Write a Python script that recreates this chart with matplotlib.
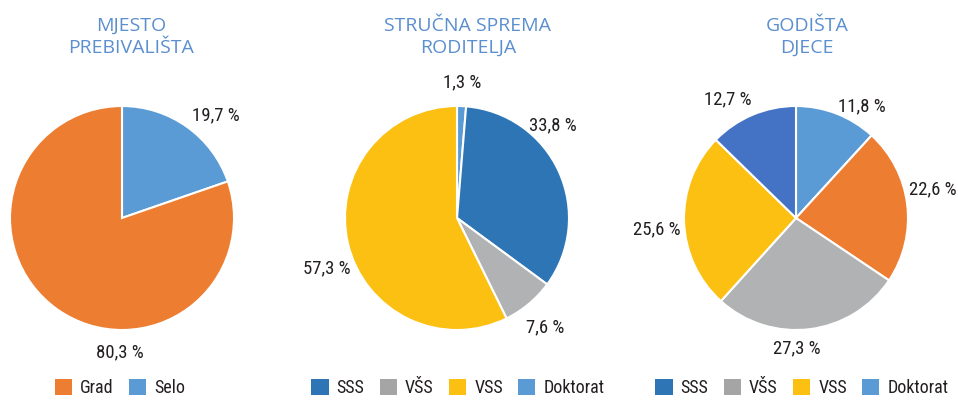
import matplotlib
matplotlib.use("Agg")
import matplotlib.pyplot as plt
from matplotlib.patches import Patch
from matplotlib import font_manager

# ---------------- data ----------------
titles = ["MJESTO\nPREBIVALIŠTA", "STRUČNA SPREMA\nRODITELJA", "GODIŠTA\nDJECE"]

# pie 1 (clockwise from 12 o'clock)
p1_cats = ["Selo", "Grad"]
p1_vals = [19.7, 80.3]
# pie 2 (clockwise from 12 o'clock)
p2_cats = ["Doktorat", "SSS", "VŠS", "VSS"]
p2_vals = [1.3, 33.8, 7.6, 57.3]
# pie 3 (clockwise from 12 o'clock)
p3_vals = [11.8, 22.6, 27.3, 25.6, 12.7]

leg1_labels = ["Grad", "Selo"]
leg2_labels = ["SSS", "VŠS", "VSS", "Doktorat"]
leg3_labels = ["SSS", "VŠS", "VSS", "Doktorat"]

# ---------------- styles ----------------
ORANGE = "#ED7D31"
LBLUE = "#5B9BD5"
BLUE = "#2E75B6"
GRAY = "#B1B2B4"
LGRAY = "#A5A5A5"
YELLOW = "#FBC012"
DBLUE = "#4472C4"
TITLE_C = "#5B8FCF"
TXT_C = "#231F20"

p1_cols = [LBLUE, ORANGE]
p2_cols = [LBLUE, BLUE, GRAY, YELLOW]
p3_cols = [LBLUE, ORANGE, GRAY, YELLOW, DBLUE]
leg1_cols = [ORANGE, LBLUE]
leg2_cols = [BLUE, LGRAY, YELLOW, LBLUE]
leg3_cols = [BLUE, LGRAY, YELLOW, LBLUE]

avail = {f.name for f in font_manager.fontManager.ttflist}
narrow = [f for f in ["Liberation Sans Narrow", "Roboto Condensed", "DejaVu Sans"] if f in avail]
title_font = [f for f in ["Open Sans", "Roboto", "DejaVu Sans"] if f in avail]

# label positions in units of pie radius (text placement only)
lab_pos = [
    [(0.84, 0.92), (-0.02, -1.20)],
    [(0.045, 1.21), (0.86, 0.83), (0.79, -0.98), (-1.16, -0.45)],
    [(0.59, 1.00), (1.22, 0.26), (0.01, -1.16), (-1.24, -0.10), (-0.61, 1.06)],
]

W, H = 958, 400
fig = plt.figure(figsize=(W / 100, H / 100), dpi=100)
R = 112
centers = [(122, 218), (457, 218), (796, 218)]
title_x = [131, 468, 807]
legend_x = [120, 458, 802]

pies = [(p1_vals, p1_cols), (p2_vals, p2_cols), (p3_vals, p3_cols)]
legends = [(leg1_labels, leg1_cols), (leg2_labels, leg2_cols), (leg3_labels, leg3_cols)]

for i, ((vals, cols), (cx, cy)) in enumerate(zip(pies, centers)):
    ax = fig.add_axes([(cx - R) / W, (H - cy - R) / H, 2 * R / W, 2 * R / H])
    ax.pie(vals, colors=cols, startangle=90, counterclock=False, radius=1,
           wedgeprops=dict(edgecolor="white", linewidth=1.5))
    ax.set_xlim(-1, 1)
    ax.set_ylim(-1, 1)
    ax.set_aspect("equal")
    ax.axis("off")
    for v, (lx, ly) in zip(vals, lab_pos[i]):
        ax.text(lx, ly, f"{v:.1f} %".replace(".", ","), ha="center", va="center",
                fontsize=13.5, color=TXT_C, family=narrow, clip_on=False)
    fig.text(title_x[i] / W, 1 - 37 / H, titles[i], ha="center", va="center",
             fontsize=14, color=TITLE_C, family=title_font, linespacing=1.3)
    labs, lcols = legends[i]
    handles = [Patch(facecolor=c, edgecolor="none") for c in lcols]
    fig.legend(handles, labs, loc="center", bbox_to_anchor=(legend_x[i] / W, 1 - 388 / H),
               ncol=len(labs), frameon=False, prop=dict(family=narrow, size=13),
               handlelength=0.95, handleheight=0.95, handletextpad=0.45, columnspacing=0.85,
               labelcolor=TXT_C, borderpad=0.2, borderaxespad=0)

fig.savefig("out.png", dpi=100)
